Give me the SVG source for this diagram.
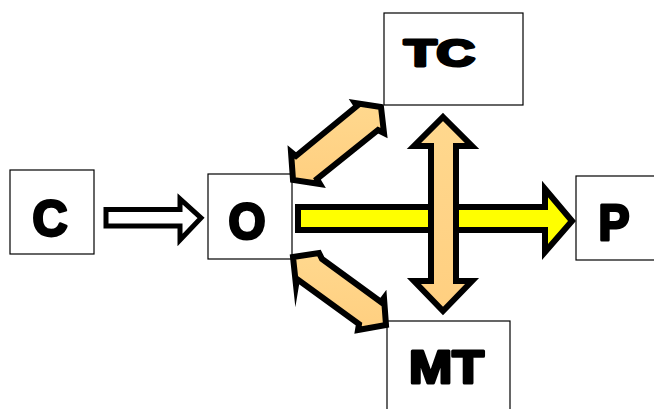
<svg xmlns="http://www.w3.org/2000/svg" width="654" height="409" viewBox="0 0 654 409">
<style>
.box{fill:#fff;stroke:#000;stroke-width:1.2}
.lbl{font-family:"Liberation Sans",Arial,sans-serif;font-weight:bold;fill:#000;stroke:#000;stroke-width:3;stroke-linejoin:round;text-anchor:middle}
.orange{fill:url(#og);stroke:#000;stroke-width:6;stroke-linejoin:miter;stroke-miterlimit:10}
</style>
<defs>
<linearGradient id="og" x1="0" y1="0" x2="0" y2="1">
<stop offset="0" stop-color="#FFD88E"/>
<stop offset="1" stop-color="#FFCF80"/>
</linearGradient>
</defs>
<rect width="654" height="409" fill="#fff"/>
<g id="node-C"><rect class="box" x="10" y="170" width="84" height="84"/><text class="lbl" x="50" y="236" font-size="50" textLength="35" lengthAdjust="spacingAndGlyphs">C</text></g>
<g id="node-O"><rect class="box" x="208" y="174" width="84" height="85"/><text class="lbl" x="247" y="239" font-size="50" textLength="37" lengthAdjust="spacingAndGlyphs">O</text></g>
<g id="node-TC"><rect class="box" x="384" y="13" width="139" height="92"/><text class="lbl" x="439.5" y="66" font-size="37" textLength="71" lengthAdjust="spacingAndGlyphs">TC</text></g>
<g id="node-MT"><rect class="box" x="387" y="321" width="123" height="100"/><text class="lbl" x="446.5" y="383" font-size="47" textLength="75" lengthAdjust="spacingAndGlyphs">MT</text></g>
<g id="node-P"><rect class="box" x="576" y="176" width="82" height="84"/><text class="lbl" x="614" y="240" font-size="50" textLength="31" lengthAdjust="spacingAndGlyphs">P</text></g>
<g id="connectors">
<polygon points="106,209.5 180,209.5 180,199 201,218 180,240 180,226 106,226" fill="#fff" stroke="#000" stroke-width="5" stroke-linejoin="miter"/>
<polygon points="298,207 545,207 545,189 572,221 545,252 545,230 298,230" fill="#FFFF00" stroke="#000" stroke-width="6" stroke-linejoin="miter"/>
<polygon class="orange" points="443,117 472,146 456,146 456,281 472,281 443,311 414,281 431,281 431,146 414,146"/>
<polygon class="orange" points="381,107 355,103 357,106 296,156 291,152 293,180 320,184 317,179 378,130 384,133"/>
<polygon class="orange" points="293,257 319,253 322,259 381,302 384,298 386,325 358,330 359,324 297,279 296,285"/>
</g>
</svg>
